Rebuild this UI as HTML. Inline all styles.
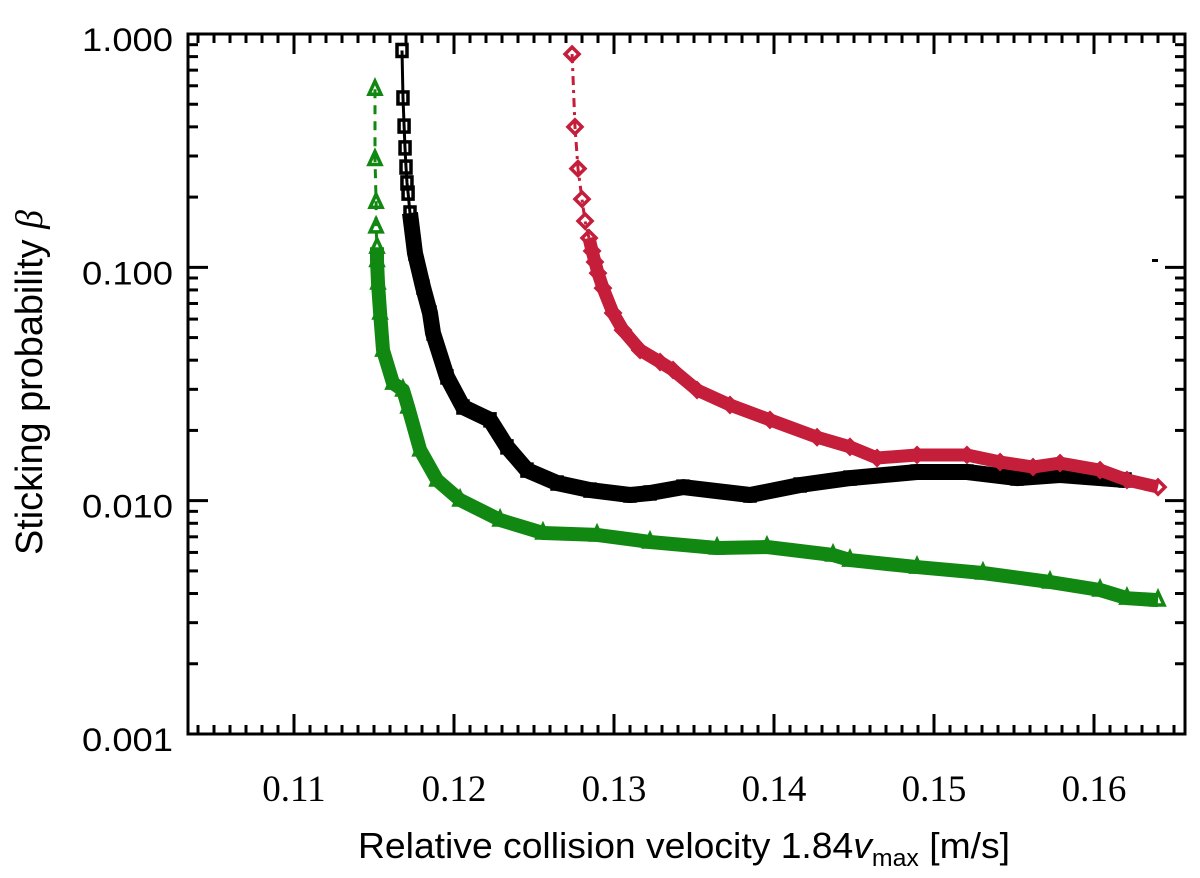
<!DOCTYPE html>
<html><head><meta charset="utf-8"><style>
html,body{margin:0;padding:0;background:#fff;width:1200px;height:878px;overflow:hidden}
svg{display:block}
</style></head><body>
<svg id="chart" width="1200" height="878" viewBox="0 0 1200 878" xmlns="http://www.w3.org/2000/svg">
<g id="marks"></g>
<g id="axes"></g>
<text x="358" y="858" textLength="652" lengthAdjust="spacingAndGlyphs" font-family="Liberation Sans, sans-serif" font-size="36">Relative collision velocity 1.84<tspan font-style="italic">v</tspan><tspan font-size="24" dy="8">max</tspan><tspan dy="-8"> [m/s]</tspan></text>
<text transform="translate(42,555) rotate(-90)" textLength="345" lengthAdjust="spacingAndGlyphs" font-family="Liberation Sans, sans-serif" font-size="38">Sticking probability <tspan font-style="italic" font-family="Liberation Serif, serif">β</tspan></text>
<rect x="1152" y="259" width="6" height="3" fill="#000"/>
</svg>
<script>
const xTicks=[0.11,0.12,0.13,0.14,0.15,0.16];
const xTickLabels=["0.11","0.12","0.13","0.14","0.15","0.16"];
const yTicks=[1,0.1,0.01,0.001];
const yTickLabels=["1.000","0.100","0.010","0.001"];

const blackX=[0.11675,0.11681,0.11688,0.11694,0.117,0.11706,0.11713,0.11725,0.11756,0.11806,0.1185,0.11869,0.11956,0.12056,0.12225,0.12331,0.12456,0.12644,0.1285,0.131,0.13225,0.13431,0.1385,0.14163,0.14475,0.14894,0.15206,0.15519,0.15788,0.16194];
const blackY=[0.85,0.532,0.403,0.325,0.269,0.23,0.208,0.171,0.115,0.0823,0.0637,0.0523,0.0339,0.0252,0.0222,0.0170,0.01352,0.0119,0.0111,0.01057,0.01079,0.01143,0.01057,0.01167,0.0125,0.01327,0.01327,0.0125,0.01288,0.01226];

const greenX=[0.11506,0.11506,0.11513,0.11513,0.11519,0.11519,0.11525,0.11538,0.11556,0.11619,0.11681,0.11713,0.11788,0.11894,0.12038,0.12288,0.12556,0.12894,0.13225,0.13644,0.13956,0.14369,0.14475,0.14894,0.15306,0.15725,0.16038,0.16206,0.164];
const greenY=[0.58,0.29,0.19,0.149,0.122,0.107,0.0857,0.0637,0.0442,0.0319,0.0298,0.0252,0.0165,0.01226,0.01007,0.00826,0.00727,0.00713,0.00665,0.00627,0.00633,0.00585,0.00556,0.00519,0.0049,0.00448,0.00414,0.00382,0.00375];

const redX=[0.12738,0.12756,0.12775,0.128,0.12819,0.12844,0.12863,0.12881,0.129,0.12931,0.12994,0.13056,0.13163,0.13288,0.13369,0.13519,0.13725,0.13975,0.14269,0.14475,0.14644,0.14894,0.15206,0.15413,0.15619,0.15788,0.16038,0.16206,0.164];
const redY=[0.82,0.40,0.265,0.196,0.158,0.1336,0.1175,0.1054,0.0945,0.0815,0.0637,0.0538,0.0442,0.0393,0.0363,0.0298,0.0257,0.0222,0.0187,0.0170,0.01524,0.0157,0.0157,0.01464,0.01393,0.01449,0.01352,0.01226,0.01143];

const L=188,R=1185,T=34,B=734;
const XMIN=0.11-(294-L)/16000, XMAX=0.11+(R-294)/16000;
function sx(v){return L+(v-XMIN)/(XMAX-XMIN)*(R-L);}
function sy(v){return T+(-Math.log10(v))/3*(B-T);}
const NS="http://www.w3.org/2000/svg";
function mk(tag,attrs,parent){const e=document.createElementNS(NS,tag);for(const k in attrs)e.setAttribute(k,attrs[k]);parent.appendChild(e);return e;}
const marks=document.getElementById('marks'), axes=document.getElementById('axes');

function series(name,xs,ys,color,dash,bandW,marker,thr){
  const g=mk('g',{},marks);
  
  
  const pts=xs.map((x,i)=>sx(x).toFixed(1)+','+sy(ys[i]).toFixed(1)).join(' ');
  const line=mk('polyline',{points:pts,fill:'none',stroke:color,'stroke-width':3,'stroke-dasharray':dash},g);
  
  
  const dense=[];
  xs.forEach((x,i)=>{if(ys[i]<thr)dense.push(sx(x).toFixed(1)+','+sy(ys[i]).toFixed(1));});
  const band=mk('polyline',{points:dense.join(' '),fill:'none',stroke:color,'stroke-width':bandW,'stroke-linejoin':'round','stroke-linecap':'butt'},g);
  
  
  xs.forEach((x,i)=>{
    const cx=sx(x),cy=sy(ys[i]);let m;
    if(marker==='square')m=mk('rect',{x:cx-5,y:cy-6,width:10,height:12,fill:'none',stroke:color,'stroke-width':3.5},g);
    else if(marker==='tri')m=mk('polygon',{points:`${cx},${cy-8} ${cx-6},${cy+5} ${cx+6},${cy+5}`,fill:'none',stroke:color,'stroke-width':3.5},g);
    else m=mk('polygon',{points:`${cx},${cy-7} ${cx+7},${cy} ${cx},${cy+7} ${cx-7},${cy}`,fill:'none',stroke:color,'stroke-width':3.5},g);
    
    
  });
}
series('green-series',greenX,greenY,'#118811','9,7',14,'tri',0.13);
series('black-series',blackX,blackY,'#000','',16,'square',0.2);
series('red-series',redX,redY,'#c41e3a','9,5,3,5',13,'diamond',0.14);

const fr=mk('rect',{x:L,y:T,width:R-L,height:B-T,fill:'none',stroke:'#000','stroke-width':3},axes);


for(let k=104;k<=165;k++){
  const v=k/1000, px=sx(v); if(px<L+1||px>R-1)continue;
  const major=k%10===0, len=major?20:9;
  const t1=mk('line',{x1:px,y1:B,x2:px,y2:B-len,stroke:'#000','stroke-width':3},axes);
  
  
  const t2=mk('line',{x1:px,y1:T,x2:px,y2:T+len,stroke:'#000','stroke-width':3},axes);
  
  
}
xTicks.forEach((v,i)=>{
  const t=mk('text',{x:sx(v),y:801,'text-anchor':'middle','font-family':'Liberation Serif, serif','font-size':37},axes);
  t.textContent=xTickLabels[i];
  
  
});
for(let d=0;d<3;d++){
  for(let m=1;m<=9;m++){
    const v=Math.pow(10,-3+d)*m, py=sy(v);
    const major=m===1, len=major?20:10;
    const a=mk('line',{x1:L,y1:py,x2:L+len,y2:py,stroke:'#000','stroke-width':3},axes);
    
    
    const b=mk('line',{x1:R,y1:py,x2:R-len,y2:py,stroke:'#000','stroke-width':3},axes);
    
    
  }
}
yTicks.forEach((v,i)=>{
  const t=mk('text',{x:82,y:sy(v)+17,textLength:91,lengthAdjust:'spacingAndGlyphs','font-family':'Liberation Sans, sans-serif','font-size':32},axes);
  t.textContent=yTickLabels[i];
  
  
});
</script>
</body></html>
